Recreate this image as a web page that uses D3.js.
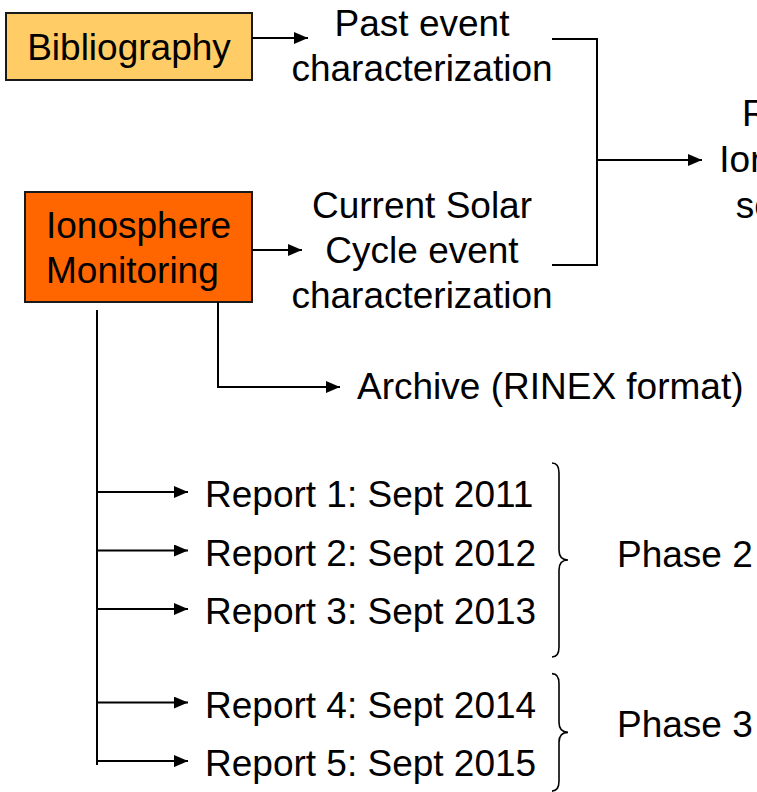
<!DOCTYPE html>
<html>
<head>
<meta charset="utf-8">
<script src="https://cdn.jsdelivr.net/npm/d3@7"></script>
<style>
  html, body { margin: 0; padding: 0; background: #fff; overflow: hidden; }
  text { font-family: "Liberation Sans", Arial, sans-serif; font-size: 37px; fill: #000; }
</style>
</head>
<body>
<script>
// diagram content
const sourceLabels = [['Bibliography'], ['Ionosphere', 'Monitoring']];
const eventLabels = [['Past event', 'characterization'], ['Current Solar', 'Cycle event', 'characterization']];
const outcomeLabel = ['Regional', 'Ionospheric', 'scenarios'];
const archiveLabel = 'Archive (RINEX format)';
const reportLabels = [
  'Report 1: Sept 2011',
  'Report 2: Sept 2012',
  'Report 3: Sept 2013',
  'Report 4: Sept 2014',
  'Report 5: Sept 2015',
];
const phaseLabels = ['Phase 2', 'Phase 3'];
const phaseSizes = [3, 2];

// styles
const boxFill = ['#FFCC66', '#FF6600'];
const lineColor = '#000';
const lh = 45;

const width = 757, height = 792;

const svg = d3.select('body').append('svg')
  .attr('width', width)
  .attr('height', height);

svg.append('defs').append('marker')
  .attr('id', 'arrow')
  .attr('viewBox', '0 0 14 12')
  .attr('refX', 14)
  .attr('refY', 6)
  .attr('markerUnits', 'userSpaceOnUse')
  .attr('markerWidth', 14)
  .attr('markerHeight', 12)
  .attr('orient', 'auto')
  .append('path')
  .attr('d', 'M0,0 L14,6 L0,12 Z')
  .attr('fill', lineColor);

function line(pts, arrow) {
  const p = svg.append('path')
    .attr('d', d3.line()(pts))
    .attr('fill', 'none')
    .attr('stroke', lineColor)
    .attr('stroke-width', 2);
  if (arrow) p.attr('marker-end', 'url(#arrow)');
  return p;
}

function lines(x, y0, labels, anchor) {
  const t = svg.append('text')
    .attr('text-anchor', anchor || 'middle');
  t.selectAll('tspan').data(labels).join('tspan')
    .attr('x', x)
    .attr('y', (d, i) => y0 + i * lh)
    .text(d => d);
  return t;
}

// source boxes
const boxes = [
  { x: 6, y: 13, w: 246, h: 67, tx: 129, ty: 60, anchor: 'middle', ay: 38 },
  { x: 25, y: 192, w: 227, h: 110, tx: 46, ty: 238, anchor: 'start', ay: 250 },
];
boxes.forEach((b, i) => {
  svg.append('rect')
    .attr('x', b.x).attr('y', b.y)
    .attr('width', b.w).attr('height', b.h)
    .attr('fill', boxFill[i])
    .attr('stroke', '#1a1a1a')
    .attr('stroke-width', 2);
  lines(b.tx, b.ty, sourceLabels[i], b.anchor);
  line([[b.x + b.w, b.ay], [i === 0 ? 308 : 302, b.ay]], true);
});

// event characterizations
const eventY = [36, 218];
eventLabels.forEach((lab, i) => lines(422, eventY[i], lab));

// bracket joining the two events
const brTop = 39, brBot = 265, brX = 597, brMid = 160;
line([[552, brTop], [brX, brTop], [brX, brBot], [552, brBot]], false);
line([[brX, brMid], [702, brMid]], true);
svg.append('text')
  .attr('text-anchor', 'middle')
  .selectAll('tspan').data(outcomeLabel).join('tspan')
  .attr('x', 815)
  .attr('y', (d, i) => 126 + i * 46)
  .text(d => d);

// archive branch
line([[218, 302], [218, 387], [340, 387]], true);
svg.append('text').attr('x', 357).attr('y', 399).text(archiveLabel);

// reports
const phaseOf = [];
phaseSizes.forEach((n, p) => { for (let k = 0; k < n; k++) phaseOf.push(p); });
const slots = reportLabels.map((d, i) => i + phaseOf[i] * 0.6);
const rowY = d3.scaleLinear().domain([0, 1]).range([492, 550.5]);

line([[97, 310], [97, 765]], false);

const rows = svg.append('g').selectAll('g').data(reportLabels).join('g');
rows.each(function(d, i) {
  const y = rowY(slots[i]);
  line([[97, y], [188, y]], true);
});
rows.append('text')
  .attr('x', 205)
  .attr('y', (d, i) => rowY(slots[i]) + 15)
  .text(d => d);

// phase braces
const x0 = 552, x1 = 559, x2 = 568, r = 10;
let start = 0;
phaseLabels.forEach((lab, p) => {
  const idx = d3.range(start, start + phaseSizes[p]);
  start += phaseSizes[p];
  const top = rowY(slots[idx[0]]) - 29;
  const bot = rowY(slots[idx[idx.length - 1]]) + (p === 0 ? 48 : 30);
  const mid = (top + bot) / 2;
  const path = d3.path();
  path.moveTo(x0, top);
  path.quadraticCurveTo(x1, top, x1, top + r);
  path.lineTo(x1, mid - r);
  path.quadraticCurveTo(x1, mid, x2, mid);
  path.quadraticCurveTo(x1, mid, x1, mid + r);
  path.lineTo(x1, bot - r);
  path.quadraticCurveTo(x1, bot, x0, bot);
  svg.append('path')
    .attr('d', path.toString())
    .attr('fill', 'none')
    .attr('stroke', lineColor)
    .attr('stroke-width', 1.6);
  svg.append('text')
    .attr('x', 617)
    .attr('y', mid + 13 - (p === 0 ? 6 : 8))
    .text(lab);
});
</script>
</body>
</html>
